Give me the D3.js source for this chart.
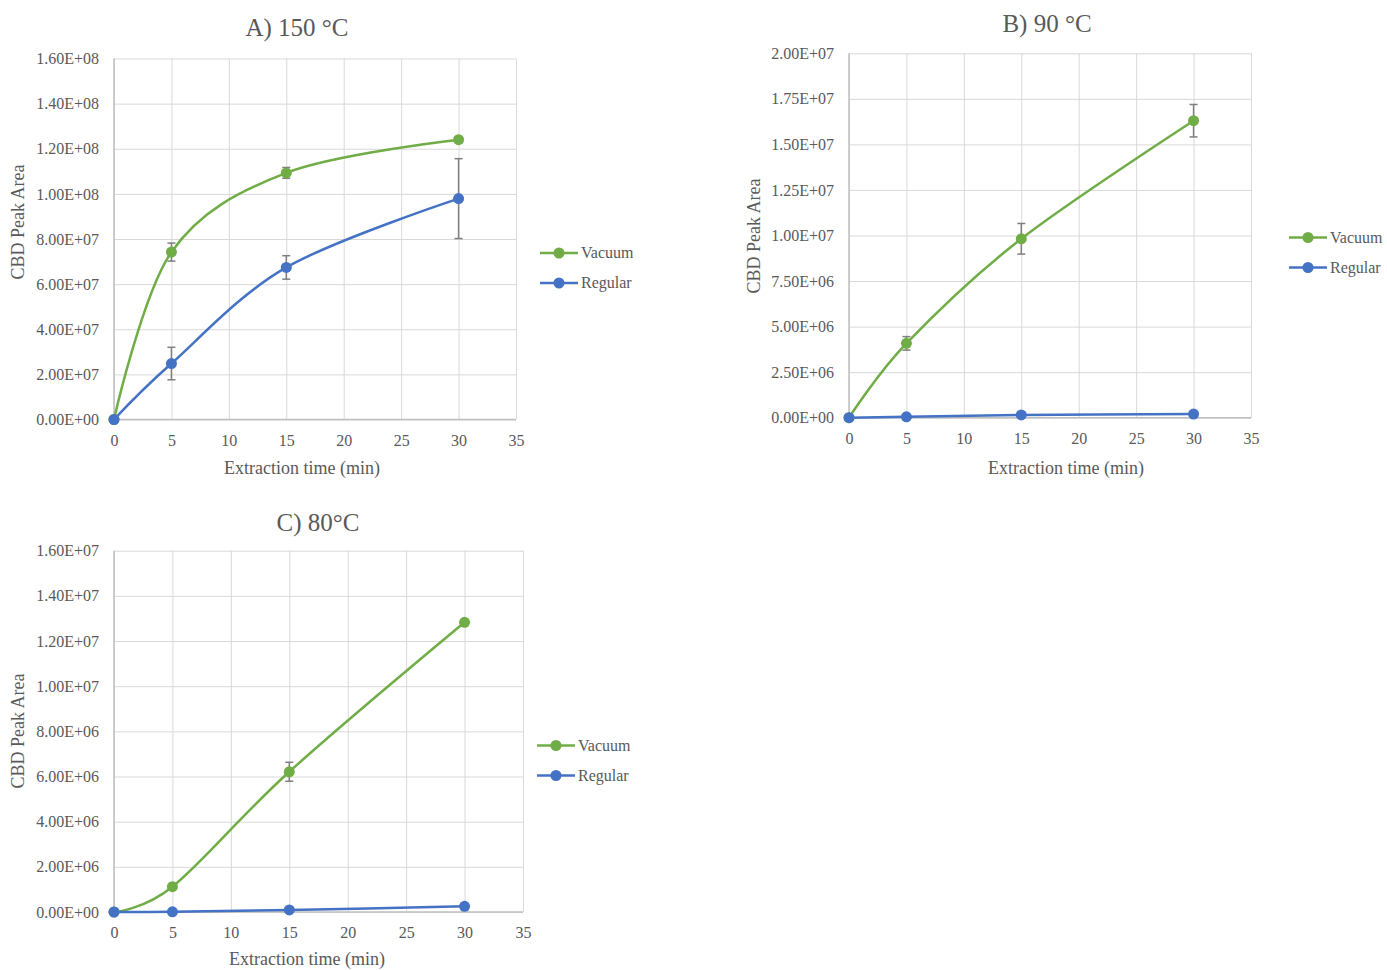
<!DOCTYPE html>
<html>
<head>
<meta charset="utf-8">
<script src="https://cdn.jsdelivr.net/npm/d3@7"></script>
<style>
body { margin: 0; background: #fff; }
text { font-family: "Liberation Serif", "Times New Roman", serif; fill: #595959; }
</style>
</head>
<body>
<svg id="chart" width="1387" height="970"></svg>
<script>
// temps d'extraction (min)
const times = [0, 5, 15, 30];
const xTicks = [0, 5, 10, 15, 20, 25, 30, 35];
const seriesNames = ["Vacuum", "Regular"];
const seriesColors = ["#70ad47", "#4472c4"];

// A) 150 °C
const vacuumA = [0, 7.42e7, 1.093e8, 1.24e8];
const vacuumAErr = [0, 4.0e6, 2.4e6, 0];
const regularA = [0, 2.48e7, 6.74e7, 9.79e7];
const regularAErr = [0, 7.2e6, 5.2e6, 1.77e7];
const yTicksA = [0, 2e7, 4e7, 6e7, 8e7, 1e8, 1.2e8, 1.4e8, 1.6e8];

// B) 90 °C
const vacuumB = [0, 4.08e6, 9.82e6, 1.63e7];
const vacuumBErr = [0, 3.7e5, 8.4e5, 8.9e5];
const regularB = [0, 5e4, 1.5e5, 2.0e5];
const regularBErr = [0, 0, 0, 0];
const yTicksB = [0, 2.5e6, 5e6, 7.5e6, 1e7, 1.25e7, 1.5e7, 1.75e7, 2e7];

// C) 80 °C
const vacuumC = [0, 1.12e6, 6.21e6, 1.283e7];
const vacuumCErr = [0, 0, 4.2e5, 0];
const regularC = [0, 1e4, 9e4, 2.5e5];
const regularCErr = [0, 0, 0, 0];
const yTicksC = [0, 2e6, 4e6, 6e6, 8e6, 1e7, 1.2e7, 1.4e7, 1.6e7];

const svg = d3.select("#chart");

// format Excel : 1.60E+08
function fmtE(v) {
    if (v === 0) return "0.00E+00";
    const e = Math.floor(Math.log10(v) + 1e-9);
    const m = v / Math.pow(10, e);
    return m.toFixed(2) + "E+" + String(e).padStart(2, "0");
}

function drawPanel(p) {
    const g = svg.append("g");
    const x = d3.scaleLinear().domain([0, 35]).range([p.left, p.right]);
    const y = d3.scaleLinear().domain([0, d3.max(p.yTicks)]).range([p.bottom, p.top]);

    // axe X + grille verticale
    const gx = g.append("g")
        .attr("transform", `translate(0,${p.bottom})`)
        .call(d3.axisBottom(x).tickValues(xTicks).tickSize(-(p.bottom - p.top)).tickPadding(15));
    gx.select(".domain").remove();
    gx.selectAll("line").attr("stroke", "#d9d9d9").attr("stroke-width", 1);
    gx.selectAll("text").attr("font-size", 16).attr("fill", "#595959")
        .style("font-family", "Liberation Serif");

    // axe Y + grille horizontale
    const gy = g.append("g")
        .attr("transform", `translate(${p.left},0)`)
        .call(d3.axisLeft(y).tickValues(p.yTicks).tickFormat(fmtE)
            .tickSize(-(p.right - p.left)).tickPadding(15));
    gy.select(".domain").remove();
    gy.selectAll("line").attr("stroke", "#d9d9d9").attr("stroke-width", 1);
    gy.selectAll("text").attr("font-size", 16).attr("fill", "#595959")
        .style("font-family", "Liberation Serif");

    // lignes d'axe
    g.append("line").attr("x1", p.left).attr("x2", p.left)
        .attr("y1", p.top).attr("y2", p.bottom)
        .attr("stroke", "#bfbfbf").attr("stroke-width", 1.5);
    g.append("line").attr("x1", p.left).attr("x2", p.right)
        .attr("y1", p.bottom).attr("y2", p.bottom)
        .attr("stroke", "#bfbfbf").attr("stroke-width", 1.5);

    const line = d3.line()
        .x((d, i) => x(times[i]))
        .y(d => y(d))
        .curve(d3.curveCatmullRom.alpha(0));

    p.series.forEach((s, k) => {
        g.append("path")
            .datum(s.values)
            .attr("fill", "none")
            .attr("stroke", seriesColors[k])
            .attr("stroke-width", 2.5)
            .attr("d", line);
    });

    // barres d'erreur
    p.series.forEach(s => {
        s.values.forEach((v, i) => {
            const e = s.errors[i];
            if (!e) return;
            const cx = x(times[i]);
            g.append("line").attr("x1", cx).attr("x2", cx)
                .attr("y1", y(v - e)).attr("y2", y(v + e))
                .attr("stroke", "#7f7f7f").attr("stroke-width", 1.5);
            [v - e, v + e].forEach(w => {
                g.append("line").attr("x1", cx - 4).attr("x2", cx + 4)
                    .attr("y1", y(w)).attr("y2", y(w))
                    .attr("stroke", "#7f7f7f").attr("stroke-width", 1.5);
            });
        });
    });

    // marqueurs
    p.series.forEach((s, k) => {
        g.selectAll(null).data(s.values).enter().append("circle")
            .attr("cx", (d, i) => x(times[i]))
            .attr("cy", d => y(d))
            .attr("r", 5.5)
            .attr("fill", seriesColors[k]);
    });

    // titres
    g.append("text").attr("x", p.titleX).attr("y", p.titleY)
        .attr("text-anchor", "middle").attr("font-size", 25).text(p.title);
    g.append("text").attr("x", p.xTitleX).attr("y", p.xTitleY)
        .attr("text-anchor", "middle").attr("font-size", 18).text("Extraction time (min)");
    g.append("text")
        .attr("transform", `translate(${p.yTitleX},${p.yTitleY}) rotate(-90)`)
        .attr("text-anchor", "middle").attr("font-size", 18).text("CBD Peak Area");

    // légende
    seriesNames.forEach((name, k) => {
        const ly = p.legendY + k * 30;
        g.append("line").attr("x1", p.legendX).attr("x2", p.legendX + 38)
            .attr("y1", ly).attr("y2", ly)
            .attr("stroke", seriesColors[k]).attr("stroke-width", 2.5);
        g.append("circle").attr("cx", p.legendX + 19).attr("cy", ly).attr("r", 5.5)
            .attr("fill", seriesColors[k]);
        g.append("text").attr("x", p.legendX + 41).attr("y", ly).attr("dy", "0.33em")
            .attr("font-size", 16).text(name);
    });
}

drawPanel({
    title: "A) 150 °C", titleX: 297, titleY: 36,
    left: 114, right: 516, top: 58.5, bottom: 419.5,
    yTicks: yTicksA,
    series: [{values: vacuumA, errors: vacuumAErr}, {values: regularA, errors: regularAErr}],
    xTitleX: 302, xTitleY: 474, yTitleX: 24, yTitleY: 222,
    legendX: 540, legendY: 253
});

drawPanel({
    title: "B) 90 °C", titleX: 1047, titleY: 32,
    left: 849, right: 1251, top: 53.3, bottom: 417.7,
    yTicks: yTicksB,
    series: [{values: vacuumB, errors: vacuumBErr}, {values: regularB, errors: regularBErr}],
    xTitleX: 1066, xTitleY: 474, yTitleX: 760, yTitleY: 236,
    legendX: 1289, legendY: 237.5
});

drawPanel({
    title: "C) 80°C", titleX: 318, titleY: 531,
    left: 114, right: 523, top: 550.7, bottom: 912,
    yTicks: yTicksC,
    series: [{values: vacuumC, errors: vacuumCErr}, {values: regularC, errors: regularCErr}],
    xTitleX: 307, xTitleY: 965, yTitleX: 24, yTitleY: 731,
    legendX: 537, legendY: 745.5
});
</script>
</body>
</html>
